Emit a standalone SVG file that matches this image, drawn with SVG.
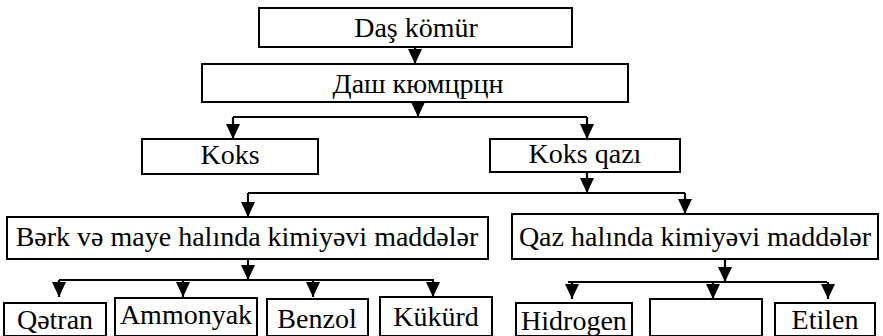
<svg xmlns="http://www.w3.org/2000/svg" width="883" height="336" viewBox="0 0 883 336">
<style>
.box{fill:#fff;stroke:#000;stroke-width:2}
.lbl{font-family:'Liberation Serif','Times New Roman',Times,'DejaVu Serif',serif;font-size:28px;fill:#000;text-anchor:middle}
.con{fill:none;stroke:#000;stroke-width:2.2}
.arr{marker-end:url(#ah)}
</style>
<defs>
<marker id="ah" markerUnits="userSpaceOnUse" markerWidth="16" markerHeight="16" refX="15" refY="7.5" orient="auto">
<path d="M0,0.5 L15,7.5 L0,14.5 z" fill="#000"/>
</marker>
</defs>
<g id="connectors">
<path class="con arr" d="M415,47 V64"/>
<path class="con arr" d="M418,102 V117"/>
<path class="con" d="M233,117 H587"/>
<path class="con arr" d="M233,117 V139"/>
<path class="con arr" d="M587,117 V139"/>
<path class="con arr" d="M587,172 V193"/>
<path class="con" d="M248,193 H685"/>
<path class="con arr" d="M248,193 V217"/>
<path class="con arr" d="M685,193 V214"/>
<path class="con arr" d="M248,259 V280"/>
<path class="con" d="M59,280 H434"/>
<path class="con arr" d="M59,280 V297"/>
<path class="con arr" d="M183,280 V297"/>
<path class="con arr" d="M313,280 V297"/>
<path class="con arr" d="M433,280 V297"/>
<path class="con arr" d="M725,259 V282"/>
<path class="con" d="M568,282 H827"/>
<path class="con arr" d="M572,282 V299"/>
<path class="con arr" d="M713,282 V299"/>
<path class="con arr" d="M828,282 V299"/>
</g>
<g id="das-komur"><rect class="box" x="259" y="8" width="313" height="39"/><text class="lbl" x="416" y="37" font-family="Liberation Serif, serif">Daş kömür</text></g>
<g id="das-komur-cyr"><rect class="box" x="202" y="64" width="426" height="38"/><text class="lbl" x="418" y="93" font-family="Liberation Serif, serif">Даш кюмцрцн</text></g>
<g id="koks"><rect class="box" x="142" y="139" width="176" height="35"/><text class="lbl" x="230" y="164" font-family="Liberation Serif, serif">Koks</text></g>
<g id="koks-qazi"><rect class="box" x="490" y="139" width="190" height="33"/><text class="lbl" x="585" y="163" font-family="Liberation Serif, serif">Koks qazı</text></g>
<g id="berk"><rect class="box" x="7" y="217" width="481" height="42"/><text class="lbl" x="247" y="246" font-family="Liberation Serif, serif">Bərk və maye halında kimiyəvi maddələr</text></g>
<g id="qaz"><rect class="box" x="512" y="214" width="366" height="45"/><text class="lbl" x="695" y="246" font-family="Liberation Serif, serif">Qaz halında kimiyəvi maddələr</text></g>
<g id="qetran"><rect class="box" x="4" y="303" width="102" height="33"/><text class="lbl" x="55" y="329" font-family="Liberation Serif, serif">Qətran</text></g>
<g id="ammonyak"><rect class="box" x="115" y="298" width="142" height="38"/><text class="lbl" x="186" y="324" font-family="Liberation Serif, serif">Ammonyak</text></g>
<g id="benzol"><rect class="box" x="267" y="299" width="101" height="37"/><text class="lbl" x="317" y="328" font-family="Liberation Serif, serif">Benzol</text></g>
<g id="kukurd"><rect class="box" x="380" y="297" width="112" height="39"/><text class="lbl" x="436" y="326" font-family="Liberation Serif, serif">Kükürd</text></g>
<g id="hidrogen"><rect class="box" x="516" y="303" width="116" height="33"/><text class="lbl" x="574" y="330" font-family="Liberation Serif, serif">Hidrogen</text></g>
<g id="empty"><rect class="box" x="650" y="299" width="112" height="37"/></g>
<g id="etilen"><rect class="box" x="775" y="303" width="100" height="33"/><text class="lbl" x="825" y="329" font-family="Liberation Serif, serif">Etilen</text></g>
</svg>
